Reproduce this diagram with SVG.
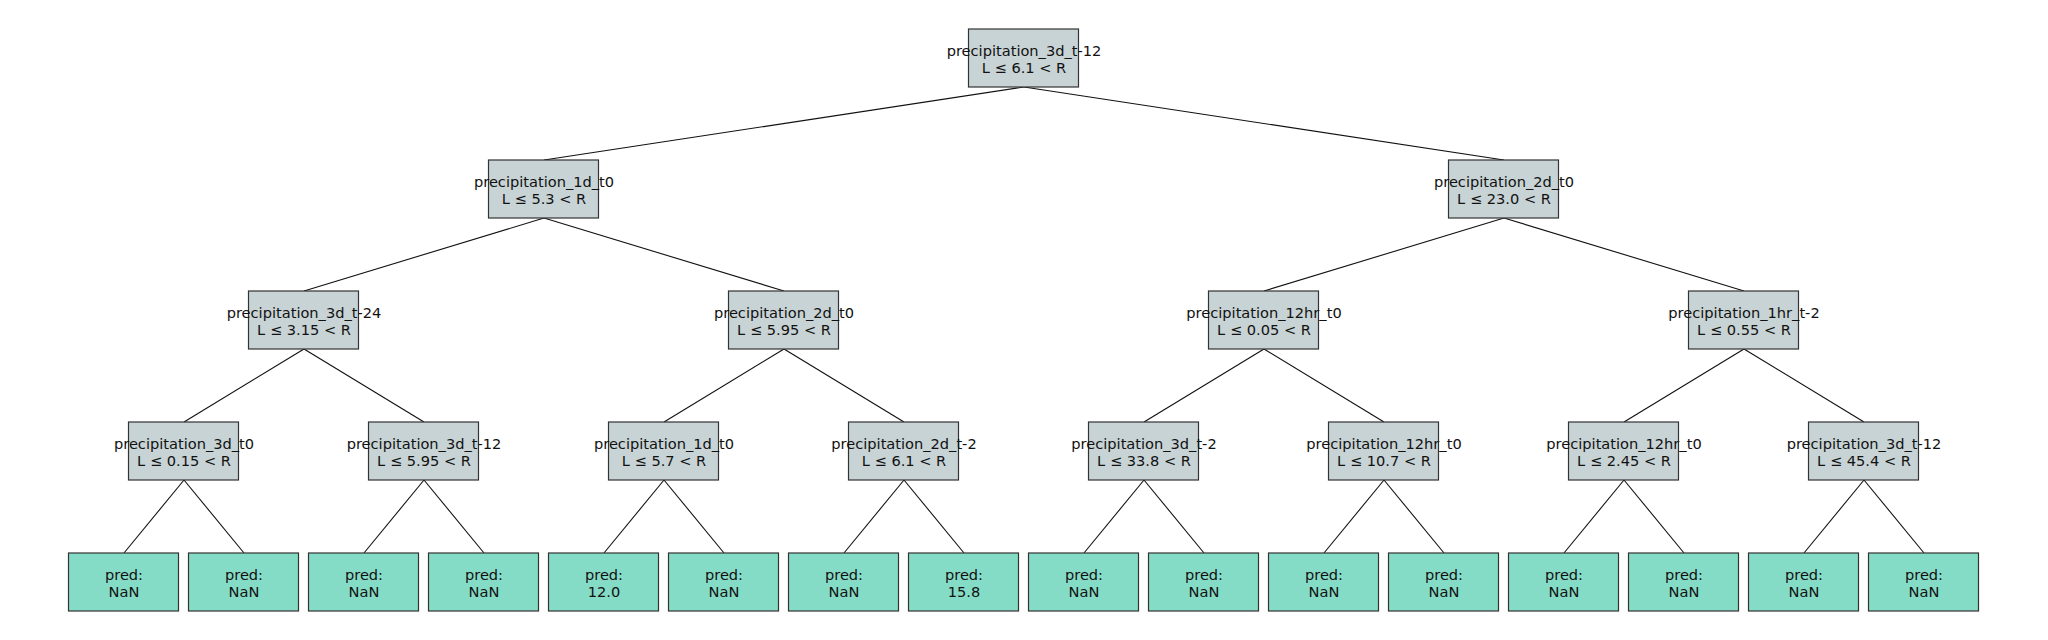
<svg xmlns="http://www.w3.org/2000/svg" width="2048" height="640" viewBox="0 0 2048 640">
<style>
.split rect{fill:#c8d3d5;stroke:#333;stroke-width:1.2}
.leaf rect{fill:#85dcc6;stroke:#333;stroke-width:1.2}
text{font-family:"DejaVu Sans",sans-serif;font-size:14.6px;fill:#111;text-anchor:middle}
#edges line{stroke:#111;stroke-width:1.1}
</style>
<rect width="2048" height="640" fill="#fff"/>
<g id="edges">
<line x1="1024" y1="87" x2="544" y2="160"/>
<line x1="1024" y1="87" x2="1504" y2="160"/>
<line x1="544" y1="218" x2="304" y2="291"/>
<line x1="544" y1="218" x2="784" y2="291"/>
<line x1="1504" y1="218" x2="1264" y2="291"/>
<line x1="1504" y1="218" x2="1744" y2="291"/>
<line x1="304" y1="349" x2="184" y2="422"/>
<line x1="304" y1="349" x2="424" y2="422"/>
<line x1="784" y1="349" x2="664" y2="422"/>
<line x1="784" y1="349" x2="904" y2="422"/>
<line x1="1264" y1="349" x2="1144" y2="422"/>
<line x1="1264" y1="349" x2="1384" y2="422"/>
<line x1="1744" y1="349" x2="1624" y2="422"/>
<line x1="1744" y1="349" x2="1864" y2="422"/>
<line x1="184" y1="480" x2="124" y2="553"/>
<line x1="184" y1="480" x2="244" y2="553"/>
<line x1="424" y1="480" x2="364" y2="553"/>
<line x1="424" y1="480" x2="484" y2="553"/>
<line x1="664" y1="480" x2="604" y2="553"/>
<line x1="664" y1="480" x2="724" y2="553"/>
<line x1="904" y1="480" x2="844" y2="553"/>
<line x1="904" y1="480" x2="964" y2="553"/>
<line x1="1144" y1="480" x2="1084" y2="553"/>
<line x1="1144" y1="480" x2="1204" y2="553"/>
<line x1="1384" y1="480" x2="1324" y2="553"/>
<line x1="1384" y1="480" x2="1444" y2="553"/>
<line x1="1624" y1="480" x2="1564" y2="553"/>
<line x1="1624" y1="480" x2="1684" y2="553"/>
<line x1="1864" y1="480" x2="1804" y2="553"/>
<line x1="1864" y1="480" x2="1924" y2="553"/>
</g>
<g id="n0" class="split"><rect x="968.5" y="29" width="110" height="58"/><text x="1024" y="56">precipitation_3d_t-12</text><text x="1024" y="73">L ≤ 6.1 &lt; R</text></g>
<g id="n1" class="split"><rect x="488.5" y="160" width="110" height="58"/><text x="544" y="187">precipitation_1d_t0</text><text x="544" y="204">L ≤ 5.3 &lt; R</text></g>
<g id="n2" class="split"><rect x="1448.5" y="160" width="110" height="58"/><text x="1504" y="187">precipitation_2d_t0</text><text x="1504" y="204">L ≤ 23.0 &lt; R</text></g>
<g id="n3" class="split"><rect x="248.5" y="291" width="110" height="58"/><text x="304" y="318">precipitation_3d_t-24</text><text x="304" y="335">L ≤ 3.15 &lt; R</text></g>
<g id="n4" class="split"><rect x="728.5" y="291" width="110" height="58"/><text x="784" y="318">precipitation_2d_t0</text><text x="784" y="335">L ≤ 5.95 &lt; R</text></g>
<g id="n5" class="split"><rect x="1208.5" y="291" width="110" height="58"/><text x="1264" y="318">precipitation_12hr_t0</text><text x="1264" y="335">L ≤ 0.05 &lt; R</text></g>
<g id="n6" class="split"><rect x="1688.5" y="291" width="110" height="58"/><text x="1744" y="318">precipitation_1hr_t-2</text><text x="1744" y="335">L ≤ 0.55 &lt; R</text></g>
<g id="n7" class="split"><rect x="128.5" y="422" width="110" height="58"/><text x="184" y="449">precipitation_3d_t0</text><text x="184" y="466">L ≤ 0.15 &lt; R</text></g>
<g id="n8" class="split"><rect x="368.5" y="422" width="110" height="58"/><text x="424" y="449">precipitation_3d_t-12</text><text x="424" y="466">L ≤ 5.95 &lt; R</text></g>
<g id="n9" class="split"><rect x="608.5" y="422" width="110" height="58"/><text x="664" y="449">precipitation_1d_t0</text><text x="664" y="466">L ≤ 5.7 &lt; R</text></g>
<g id="n10" class="split"><rect x="848.5" y="422" width="110" height="58"/><text x="904" y="449">precipitation_2d_t-2</text><text x="904" y="466">L ≤ 6.1 &lt; R</text></g>
<g id="n11" class="split"><rect x="1088.5" y="422" width="110" height="58"/><text x="1144" y="449">precipitation_3d_t-2</text><text x="1144" y="466">L ≤ 33.8 &lt; R</text></g>
<g id="n12" class="split"><rect x="1328.5" y="422" width="110" height="58"/><text x="1384" y="449">precipitation_12hr_t0</text><text x="1384" y="466">L ≤ 10.7 &lt; R</text></g>
<g id="n13" class="split"><rect x="1568.5" y="422" width="110" height="58"/><text x="1624" y="449">precipitation_12hr_t0</text><text x="1624" y="466">L ≤ 2.45 &lt; R</text></g>
<g id="n14" class="split"><rect x="1808.5" y="422" width="110" height="58"/><text x="1864" y="449">precipitation_3d_t-12</text><text x="1864" y="466">L ≤ 45.4 &lt; R</text></g>
<g id="l0" class="leaf"><rect x="68.5" y="553" width="110" height="58"/><text x="124" y="580">pred:</text><text x="124" y="597">NaN</text></g>
<g id="l1" class="leaf"><rect x="188.5" y="553" width="110" height="58"/><text x="244" y="580">pred:</text><text x="244" y="597">NaN</text></g>
<g id="l2" class="leaf"><rect x="308.5" y="553" width="110" height="58"/><text x="364" y="580">pred:</text><text x="364" y="597">NaN</text></g>
<g id="l3" class="leaf"><rect x="428.5" y="553" width="110" height="58"/><text x="484" y="580">pred:</text><text x="484" y="597">NaN</text></g>
<g id="l4" class="leaf"><rect x="548.5" y="553" width="110" height="58"/><text x="604" y="580">pred:</text><text x="604" y="597">12.0</text></g>
<g id="l5" class="leaf"><rect x="668.5" y="553" width="110" height="58"/><text x="724" y="580">pred:</text><text x="724" y="597">NaN</text></g>
<g id="l6" class="leaf"><rect x="788.5" y="553" width="110" height="58"/><text x="844" y="580">pred:</text><text x="844" y="597">NaN</text></g>
<g id="l7" class="leaf"><rect x="908.5" y="553" width="110" height="58"/><text x="964" y="580">pred:</text><text x="964" y="597">15.8</text></g>
<g id="l8" class="leaf"><rect x="1028.5" y="553" width="110" height="58"/><text x="1084" y="580">pred:</text><text x="1084" y="597">NaN</text></g>
<g id="l9" class="leaf"><rect x="1148.5" y="553" width="110" height="58"/><text x="1204" y="580">pred:</text><text x="1204" y="597">NaN</text></g>
<g id="l10" class="leaf"><rect x="1268.5" y="553" width="110" height="58"/><text x="1324" y="580">pred:</text><text x="1324" y="597">NaN</text></g>
<g id="l11" class="leaf"><rect x="1388.5" y="553" width="110" height="58"/><text x="1444" y="580">pred:</text><text x="1444" y="597">NaN</text></g>
<g id="l12" class="leaf"><rect x="1508.5" y="553" width="110" height="58"/><text x="1564" y="580">pred:</text><text x="1564" y="597">NaN</text></g>
<g id="l13" class="leaf"><rect x="1628.5" y="553" width="110" height="58"/><text x="1684" y="580">pred:</text><text x="1684" y="597">NaN</text></g>
<g id="l14" class="leaf"><rect x="1748.5" y="553" width="110" height="58"/><text x="1804" y="580">pred:</text><text x="1804" y="597">NaN</text></g>
<g id="l15" class="leaf"><rect x="1868.5" y="553" width="110" height="58"/><text x="1924" y="580">pred:</text><text x="1924" y="597">NaN</text></g>
</svg>
